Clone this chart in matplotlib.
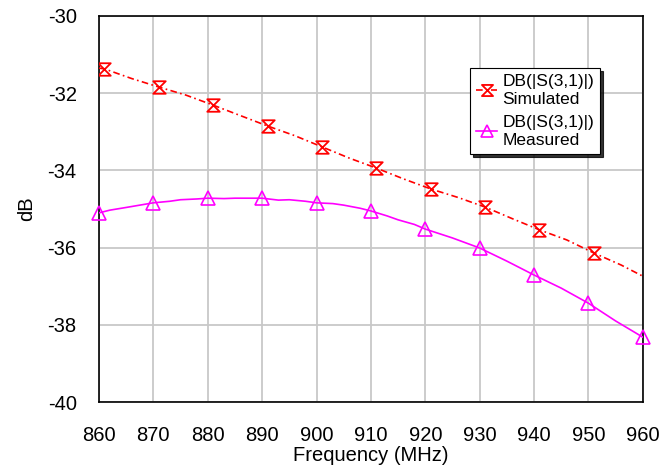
import numpy as np
import matplotlib
matplotlib.use('Agg')
import matplotlib.pyplot as plt
from matplotlib.path import Path

plt.rcParams['font.family'] = ['Liberation Sans', 'DejaVu Sans']
plt.rcParams['axes.unicode_minus'] = False

#-- simulated curve (markers sit 1 MHz off the grid)
sim_freq = [860, 861, 866, 871, 876, 881, 886, 891, 896, 901, 906, 911,
            916, 921, 926, 931, 936, 941, 946, 951, 956, 960]
sim_db = [-31.35, -31.37, -31.62, -31.84, -32.05, -32.31, -32.58, -32.85,
          -33.1, -33.39, -33.68, -33.94, -34.22, -34.48, -34.7, -34.95,
          -35.25, -35.54, -35.8, -36.14, -36.45, -36.74]
sim_mark_freq = [861, 871, 881, 891, 901, 911, 921, 931, 941, 951]
sim_mark_db = [-31.37, -31.84, -32.31, -32.85, -33.39, -33.94, -34.48,
               -34.95, -35.54, -36.14]

#-- measured curve
meas_freq = [860, 862, 865, 870, 873, 875, 878, 880, 883, 885, 888, 890,
             893, 895, 898, 900, 903, 905, 908, 910, 913, 915, 918, 920,
             925, 930, 935, 940, 945, 950, 955, 960]
meas_db = [-35.1, -35.03, -34.96, -34.84, -34.8, -34.76, -34.74, -34.72,
           -34.73, -34.72, -34.72, -34.72, -34.77, -34.76, -34.8, -34.84,
           -34.86, -34.9, -34.98, -35.05, -35.18, -35.28, -35.4, -35.52,
           -35.75, -36.01, -36.35, -36.71, -37.05, -37.44, -37.9, -38.32]
meas_mark_freq = [860, 870, 880, 890, 900, 910, 920, 930, 940, 950, 960]
meas_mark_db = [-35.1, -34.84, -34.72, -34.72, -34.84, -35.05, -35.52,
                -36.01, -36.71, -37.44, -38.32]

x_ticks = np.arange(860, 961, 10)
y_ticks = np.arange(-40, -29, 2)

#-- hourglass marker
hourglass = Path([(-1, 1), (1, 1), (-1, -1), (1, -1), (-1, 1)],
                 [Path.MOVETO, Path.LINETO, Path.LINETO, Path.LINETO, Path.CLOSEPOLY])

fig = plt.figure(figsize=(6.62, 4.66), dpi=100)
ax = fig.add_axes([0.1495, 0.1373, 0.8215, 0.8284])

ax.plot(sim_freq, sim_db, color='red', lw=1.2, ls=(0, (4, 2, 1, 2)), zorder=3)
ax.plot(sim_mark_freq, sim_mark_db, ls='none', marker=hourglass, ms=9,
        mfc='none', mec='red', mew=1.3, zorder=4)
ax.plot(meas_freq, meas_db, color='magenta', lw=1.2, zorder=3)
ax.plot(meas_mark_freq, meas_mark_db, ls='none', marker='^', ms=10,
        mfc='none', mec='magenta', mew=1.2, zorder=4, clip_on=False)

#-- legend proxies
h1, = ax.plot([], [], color='red', lw=1.2, ls=(0, (4, 2, 1, 2)), marker=hourglass,
              ms=8, mfc='none', mec='red', mew=1.3)
h2, = ax.plot([], [], color='magenta', lw=1.2, marker='^', ms=9,
              mfc='none', mec='magenta', mew=1.2)
leg = ax.legend([h1, h2], ['DB(|S(3,1)|)\nSimulated', 'DB(|S(3,1)|)\nMeasured'],
                loc='upper left', bbox_to_anchor=(0.683, 0.865), fontsize=12.5,
                frameon=True, fancybox=False, shadow={'color': 'black', 'alpha': 0.8},
                handlelength=1.2, handletextpad=0.3, borderpad=0.35,
                labelspacing=0.5, borderaxespad=0)
leg.get_frame().set_edgecolor('black')
leg.get_frame().set_linewidth(0.8)
leg.get_frame().set_alpha(1)

ax.set_xlim(860, 960)
ax.set_ylim(-40, -30)
ax.set_xticks(x_ticks)
ax.set_yticks(y_ticks)
ax.tick_params(axis='x', length=0, labelsize=14.5, pad=17)
ax.tick_params(axis='y', length=0, labelsize=14.5, pad=16)
ax.grid(True, color='#c8c8c8', lw=1.3)
ax.set_axisbelow(True)
for s in ax.spines.values():
    s.set_color('black')
    s.set_linewidth(1.2)

ax.set_xlabel('Frequency (MHz)', fontsize=14.5, labelpad=1)
ax.set_ylabel('dB', fontsize=14.5, labelpad=8)

fig.savefig('out.png', dpi=100)
